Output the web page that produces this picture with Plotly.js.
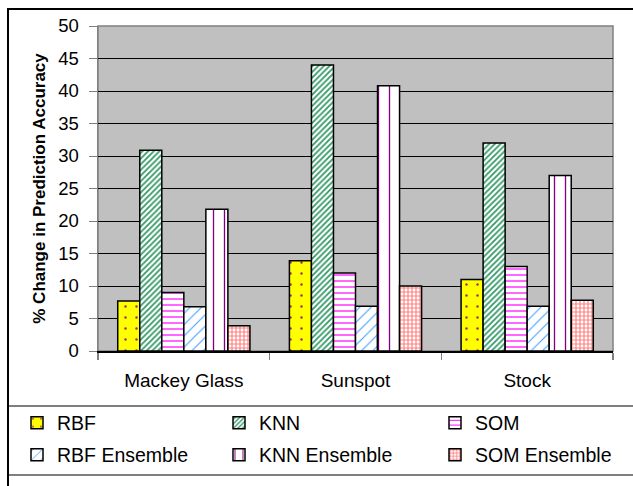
<!DOCTYPE html>
<html>
<head>
<meta charset="utf-8">
<script src="https://cdn.plot.ly/plotly-3.0.1.min.js"></script>
<style>
  html, body { margin: 0; padding: 0; background: #ffffff; }
  #chart { width: 633px; height: 486px; }
</style>
</head>
<body>
<div id="chart"></div>
<script>
// Data sets on the x axis
const categories = ["Mackey Glass", "Sunspot", "Stock"];

// % change in prediction accuracy per method
const rbf         = [7.7, 13.9, 11.0];
const knn         = [30.9, 44.0, 32.0];
const som         = [9.0, 12.0, 13.0];
const rbfEnsemble = [6.8, 6.9, 6.9];
const knnEnsemble = [21.8, 40.8, 27.0];
const somEnsemble = [3.9, 10.0, 7.8];

const yTicks = [0, 5, 10, 15, 20, 25, 30, 35, 40, 45, 50];

const FONT = "Liberation Sans, Arial, sans-serif";

// plot area in pixels (used to place frame shapes and legends in paper coordinates)
const W = 633, H = 486;
const M = { l: 98, r: 20, t: 26, b: 135, autoexpand: false };
const PW = W - M.l - M.r, PH = H - M.t - M.b;
const px = x => (x - M.l) / PW;
const py = y => (H - M.b - y) / PH;

function barTrace(name, values, legend, color, pattern) {
  return {
    type: "bar",
    name: name,
    x: categories,
    y: values,
    legend: legend,
    marker: {
      color: color,
      line: { color: "#000000", width: 1.5 },
      pattern: pattern
    },
    hoverinfo: "name+y"
  };
}

const traces = [
  barTrace("RBF", rbf, "legend", "#ffff00",
    { shape: ".", fgcolor: "#993366", bgcolor: "#ffff00", size: 11, solidity: 0.04 }),
  barTrace("KNN", knn, "legend2", "#ffffff",
    { shape: "/", fgcolor: "#339966", bgcolor: "#ffffff", size: 4, solidity: 0.45 }),
  barTrace("SOM", som, "legend3", "#ffffff",
    { shape: "-", fgcolor: "#ff00ff", bgcolor: "#ffffff", size: 6, solidity: 0.2 }),
  barTrace("RBF Ensemble", rbfEnsemble, "legend4", "#ffffff",
    { shape: "/", fgcolor: "#3399ff", bgcolor: "#ffffff", size: 8, solidity: 0.12 }),
  barTrace("KNN Ensemble", knnEnsemble, "legend5", "#ffffff",
    { shape: "|", fgcolor: "#800080", bgcolor: "#ffffff", size: 11, solidity: 0.12 }),
  barTrace("SOM Ensemble", somEnsemble, "legend6", "#ffffff",
    { shape: "+", fgcolor: "#ff7f7f", bgcolor: "#ffffff", size: 4, solidity: 0.5 })
];

// one legend per entry: three columns, two rows
const legendCols = [17, 219, 435];
const legendRows = [423, 455];

function legendAt(col, row) {
  return {
    orientation: "h",
    xanchor: "left",
    yanchor: "middle",
    x: px(legendCols[col]),
    y: py(legendRows[row]),
    bgcolor: "rgba(0,0,0,0)",
    borderwidth: 0,
    font: { family: FONT, size: 19.5, color: "#000000" }
  };
}

const layout = {
  width: W,
  height: H,
  margin: M,
  paper_bgcolor: "#ffffff",
  plot_bgcolor: "#c0c0c0",
  font: { family: FONT, size: 18, color: "#000000" },
  barmode: "group",
  bargap: 0.23,
  bargroupgap: 0,
  showlegend: true,
  legend: legendAt(0, 0),
  legend2: legendAt(1, 0),
  legend3: legendAt(2, 0),
  legend4: legendAt(0, 1),
  legend5: legendAt(1, 1),
  legend6: legendAt(2, 1),
  xaxis: {
    type: "category",
    showgrid: false,
    showline: true,
    linecolor: "#000000",
    linewidth: 1.5,
    ticks: "outside",
    tickson: "boundaries",
    ticklen: 7,
    tickcolor: "#808080",
    tickwidth: 1.5,
    ticklabelstandoff: 12,
    tickfont: { family: FONT, size: 19, color: "#000000" },
    fixedrange: true
  },
  yaxis: {
    range: [0, 50],
    tickvals: yTicks,
    ticktext: yTicks.map(String),
    showgrid: true,
    gridcolor: "#000000",
    gridwidth: 1,
    zeroline: false,
    showline: true,
    linecolor: "#808080",
    linewidth: 1.5,
    ticks: "outside",
    ticklen: 8,
    tickcolor: "#808080",
    ticklabelstandoff: 6,
    tickfont: { family: FONT, size: 18.5, color: "#000000" },
    title: {
      text: "% Change in Prediction Accuracy",
      font: { family: FONT, size: 17, color: "#000000", weight: "bold" },
      standoff: 8
    },
    fixedrange: true
  },
  shapes: [
    // plot-area border (top and right edges)
    { type: "rect", xref: "paper", yref: "paper", x0: 0, x1: 1, y0: 0, y1: 1,
      line: { color: "#808080", width: 1.5 }, layer: "below" },
    // outer chart frame
    { type: "rect", xref: "paper", yref: "paper",
      x0: px(8), x1: px(645), y0: py(500), y1: py(9),
      line: { color: "#000000", width: 2 } },
    // legend box
    { type: "rect", xref: "paper", yref: "paper",
      x0: px(8), x1: px(645), y0: py(475), y1: py(406),
      line: { color: "#555555", width: 1.5 } },
    { type: "line", xref: "paper", yref: "paper",
      x0: px(8), x1: px(8), y0: py(500), y1: py(9),
      line: { color: "#000000", width: 2 } }
  ]
};

Plotly.newPlot("chart", traces, layout, { displayModeBar: false, staticPlot: true });
</script>
</body>
</html>
